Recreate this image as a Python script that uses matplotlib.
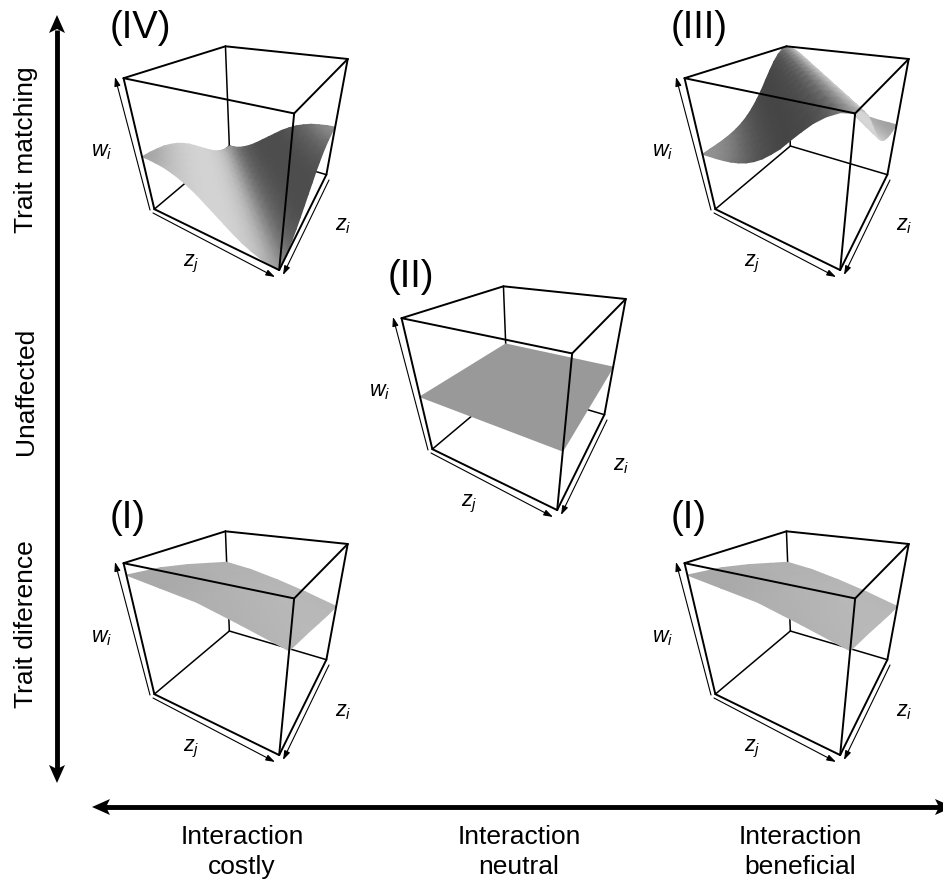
"""Five fitness surfaces w_i(z_j, z_i) on a grid of interaction outcome against trait mechanism."""

import numpy as np
import matplotlib
matplotlib.use("Agg")
import matplotlib.pyplot as plt
from matplotlib.patches import Polygon

plt.rcParams['font.family'] = ['Liberation Sans', 'DejaVu Sans']
plt.rcParams['mathtext.fontset'] = 'custom'
plt.rcParams['mathtext.it'] = 'Liberation Sans:italic'
plt.rcParams['mathtext.rm'] = 'Liberation Sans'

# ----- DATA: w_i -----
# trait matching surfaces only depend on |z_i - z_j|, so one profile each (0 to 1 in 16 steps)
PROFILE_BENEFICIAL = [1.00, .99, .957, .91, .85, .786, .72, .666, .617, .578, .548, .527, .512, .503, .497, .494, .49]
PROFILE_COSTLY = [.00, .006, .022, .05, .085, .13, .18, .23, .28, .33, .37, .405, .43, .45, .46, .468, .47]
# trait difference surface, rows are z_i (back to front), columns are z_j
W_DIFFERENCE = np.array([
    [.73, .70, .65, .59, .52],
    [.79, .76, .71, .65, .57],
    [.85, .82, .77, .71, .63],
    [.90, .87, .83, .77, .69],
    [.93, .90, .87, .81, .745],
])
W_UNAFFECTED = np.array([
    [.47, .47],
    [.47, .47],
])

PANEL_NAMES = ["(IV)", "(III)", "(II)", "(I)", "(I)"]
Y_LABELS = ["Trait matching", "Unaffected", "Trait diference"]
X_LABELS = ["Interaction\ncostly", "Interaction\nneutral", "Interaction\nbeneficial"]

# ----- LAYOUT, all in pixels of the 943x884 figure -----
FIG_W, FIG_H = 943, 884
PANEL_OFFSETS = [(0, 0), (561, 0), (278, 240), (0, 485), (561, 485)]
NAME_Y = [28, 28, 37, 33, 33]
Y_LABEL_POS = [150, 391, 624]
X_LABEL_POS = [242, 519, 800]

# cube corners (z_j, z_i, w) and where they land for the top left panel
CUBE = np.array([[0, 0, 0], [0, 1, 0], [1, 1, 0], [1, 0, 0],
                 [0, 0, 1], [0, 1, 1], [1, 1, 1], [1, 0, 1]], dtype=float)
CUBE_PX = np.array([[229, 147], [155, 209], [278, 271], [327, 173],
                    [225, 46], [124, 77], [294, 114], [348, 60]], dtype=float)
BACK_EDGES = [(0, 1), (0, 3), (0, 4)]
FRONT_EDGES = [(1, 2), (2, 3), (1, 5), (2, 6), (3, 7), (4, 5), (5, 6), (6, 7), (7, 4)]

A = []
for (x, y, z), (u, v) in zip(CUBE, CUBE_PX):
    A.append([x, y, z, 1, 0, 0, 0, 0, -u * x, -u * y, -u * z])
    A.append([0, 0, 0, 0, x, y, z, 1, -v * x, -v * y, -v * z])
b = CUBE_PX.flatten()
P = np.append(np.linalg.lstsq(np.array(A), b, rcond=None)[0], 1).reshape(3, 4)


def project(x, y, z):
    h = P @ np.stack([x, y, z, np.ones_like(x)])
    return h[0] / h[2], h[1] / h[2]


def ridge_table(profile):
    profile = np.array(profile)
    i, j = np.indices((len(profile), len(profile)))
    return profile[np.abs(i - j)]


def shading(w):
    # light comes from the z_j = 0, z_i = 1 side, a flat sheet is mid grey
    n_i, n_j = w.shape
    dw_i, dw_j = np.gradient(w, 1 / (n_i - 1), 1 / (n_j - 1))
    s = (dw_i - dw_j) / np.sqrt(1 + dw_i**2 + dw_j**2)
    s = np.where(s > 0, s / (1 + 0.3 * s), s)  # bright side saturates sooner
    return np.clip(0.6 + 0.28 * s, 0.15, 0.9)


def axis_arrow(ax, start, end):
    ax.annotate("", xy=end, xytext=start,
                arrowprops=dict(arrowstyle="-|>,head_length=0.6,head_width=0.2", mutation_scale=9,
                                lw=0.8, color="black", shrinkA=0, shrinkB=0))


def big_head(ax, tip, direction):
    # stealth head, 18 px long and 16 px wide with a small notch
    d = np.array(direction, dtype=float)
    n = np.array([-d[1], d[0]])
    tip = np.array(tip, dtype=float)
    pts = [tip, tip - 18 * d + 8 * n, tip - 14 * d, tip - 18 * d - 8 * n]
    ax.add_patch(Polygon(pts, closed=True, color="black", lw=0, clip_on=False))


PANEL_SURFACES = [ridge_table(PROFILE_COSTLY), ridge_table(PROFILE_BENEFICIAL), W_UNAFFECTED, W_DIFFERENCE, W_DIFFERENCE]

fig = plt.figure(figsize=(FIG_W / 100, FIG_H / 100), dpi=100)

for name, w, (dx, dy), name_y in zip(PANEL_NAMES, PANEL_SURFACES, PANEL_OFFSETS, NAME_Y):
    # every panel is the same cube, so the axes just slide over the figure
    ax = fig.add_axes([(90 + dx) / FIG_W, 1 - (290 + dy) / FIG_H, 290 / FIG_W, 290 / FIG_H])
    ax.set_xlim(90, 380)
    ax.set_ylim(290, 0)
    ax.axis("off")

    for i, j in BACK_EDGES:
        xs, ys = project(CUBE[[i, j], 0], CUBE[[i, j], 1], CUBE[[i, j], 2])
        ax.plot(xs, ys, color="black", lw=1.1, zorder=1, solid_capstyle="round")

    n_i, n_j = w.shape
    zj, zi = np.meshgrid(np.linspace(0, 1, n_j), np.linspace(0, 1, n_i))
    xs, ys = project(zj.ravel(), zi.ravel(), w.ravel())
    ax.pcolormesh(xs.reshape(w.shape), ys.reshape(w.shape), shading(w), shading="gouraud",
                  cmap="gray", vmin=0, vmax=1, zorder=2)

    for i, j in FRONT_EDGES:
        xs, ys = project(CUBE[[i, j], 0], CUBE[[i, j], 1], CUBE[[i, j], 2])
        ax.plot(xs, ys, color="black", lw=1.4, zorder=3, solid_capstyle="round")

    axis_arrow(ax, (150, 210), (115, 77))
    axis_arrow(ax, (153, 213), (275, 277))
    axis_arrow(ax, (329, 180), (283, 275))
    ax.text(102, 152, "$w_i$", fontsize=15.5, ha="center", va="center")
    ax.text(191, 264, "$z_j$", fontsize=15.5, ha="center", va="center")
    ax.text(343, 226, "$z_i$", fontsize=15.5, ha="center", va="center")
    ax.text(110, name_y, name, fontsize=27.5, ha="left", va="center", clip_on=False)

# overlay for the two big arrows and the outer labels
over = fig.add_axes([0, 0, 1, 1])
over.set_xlim(0, FIG_W)
over.set_ylim(FIG_H, 0)
over.axis("off")
over.plot([57, 57], [30, 770], color="black", lw=3.5, solid_capstyle="butt")
over.plot([105, 943], [807, 807], color="black", lw=3.5, solid_capstyle="butt")
big_head(over, (57, 15), (0, -1))
big_head(over, (57, 783), (0, 1))
big_head(over, (92, 807), (-1, 0))
big_head(over, (953, 807), (1, 0))

for label, y in zip(Y_LABELS, Y_LABEL_POS):
    over.text(26, y, label, fontsize=19, rotation=90, ha="center", va="center")
for label, x in zip(X_LABELS, X_LABEL_POS):
    over.text(x, 852, label, fontsize=19, ha="center", va="center", linespacing=1.3)

fig.savefig("out.png", dpi=100)
